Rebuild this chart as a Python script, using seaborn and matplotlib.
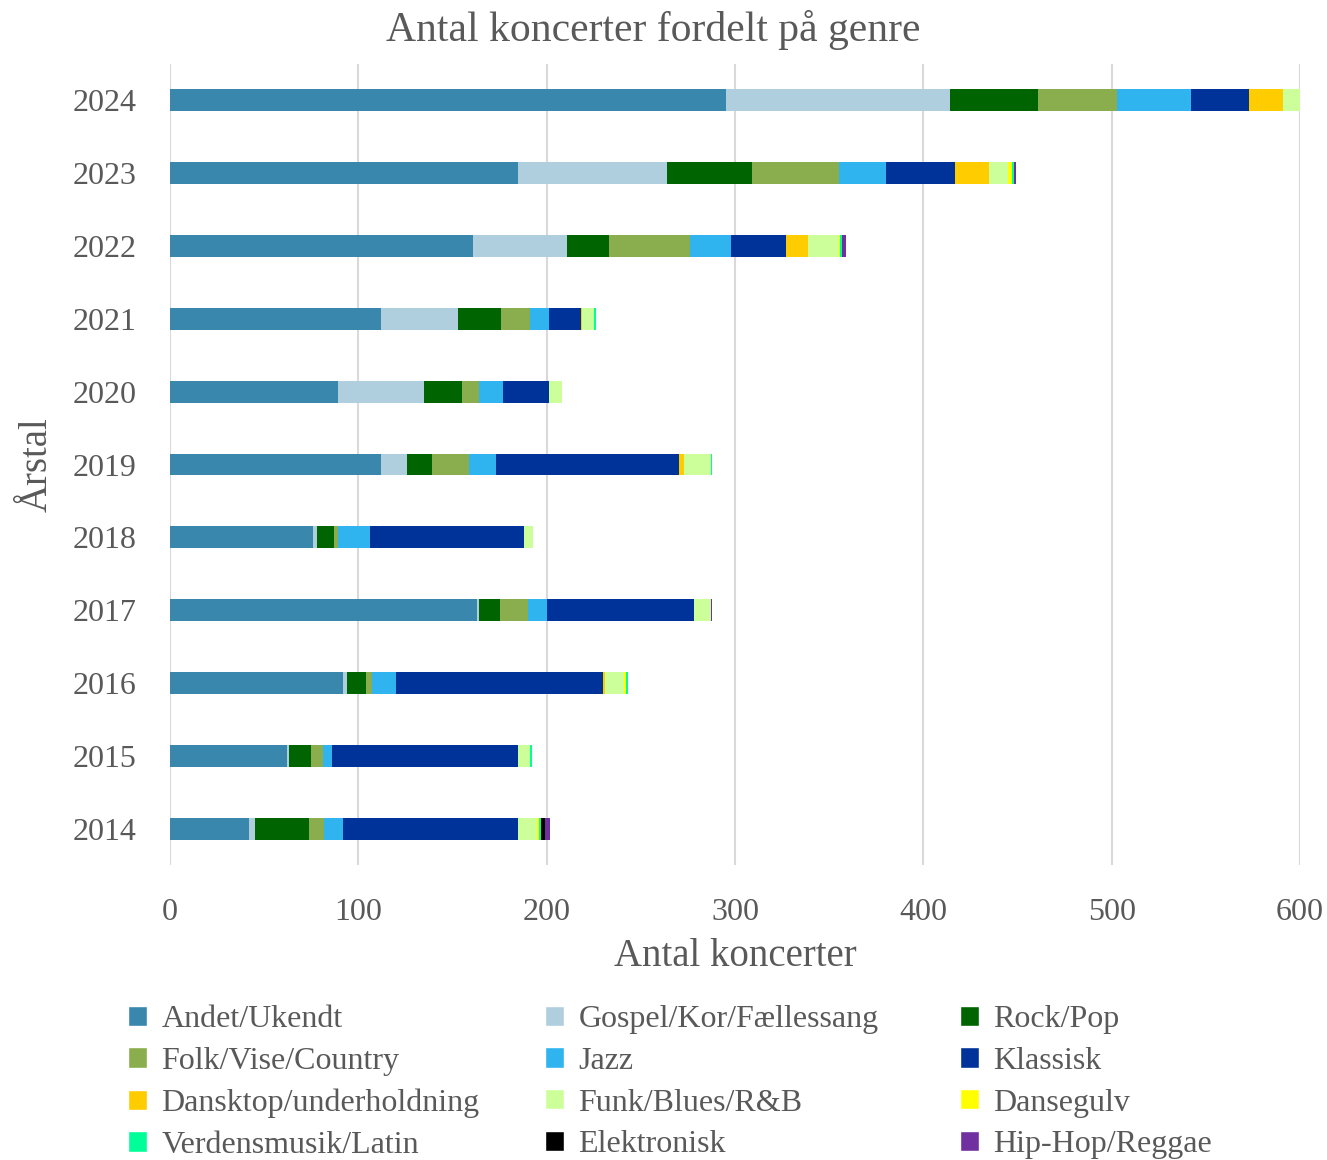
import pandas as pd
import matplotlib.pyplot as plt
from matplotlib.patches import Patch
import seaborn as sns

# Years, top to bottom
years = ['2024', '2023', '2022', '2021', '2020', '2019', '2018', '2017', '2016', '2015', '2014']

genres = ['Andet/Ukendt', 'Gospel/Kor/Fællessang', 'Rock/Pop', 'Folk/Vise/Country',
          'Jazz', 'Klassisk', 'Dansktop/underholdning', 'Funk/Blues/R&B',
          'Dansegulv', 'Verdensmusik/Latin', 'Elektronisk', 'Hip-Hop/Reggae']
colors = ['#3a87ae', '#afcfdf', '#006400', '#8aae4d', '#30b4f0', '#003399',
          '#ffcc00', '#ccff99', '#ffff00', '#00ff99', '#000000', '#7030a0']

# Counts per genre, same order as years
andet = [295, 185, 161, 112, 89, 112, 76, 163, 92, 62, 42]
gospel = [119, 79, 50, 41, 46, 14, 2, 1, 2, 1, 3]
rock = [47, 45, 22, 23, 20, 13, 9, 11, 10, 12, 29]
folk = [42, 46, 43, 15, 9, 20, 2, 15, 3, 6, 8]
jazz = [39, 25, 22, 10, 13, 14, 17, 10, 13, 5, 10]
klassisk = [31, 37, 29, 17, 24, 97, 82, 78, 110, 99, 93]
dansktop = [18, 18, 12, 1, 0, 3, 0, 0, 1, 0, 0]
funk = [9, 10, 16, 6, 7, 14, 5, 9, 10, 6, 10]
dansegulv = [0, 2, 1, 0, 0, 0, 0, 0, 1, 0, 1]
verdens = [0, 1, 1, 1, 0, 1, 0, 0, 1, 1, 1]
elektronisk = [0, 0, 0, 0, 0, 0, 0, 0, 0, 0, 2]
hiphop = [0, 1, 2, 0, 0, 0, 0, 1, 0, 0, 3]

series = [andet, gospel, rock, folk, jazz, klassisk, dansktop, funk,
          dansegulv, verdens, elektronisk, hiphop]

df = pd.DataFrame(dict(zip(genres, series)), index=years)
cum = df.cumsum(axis=1)

sns.set_style('white')
plt.rcParams['font.family'] = ['Liberation Serif', 'DejaVu Serif']
grey = '#595959'

fig = plt.figure(figsize=(13.27, 11.6), dpi=100)
ax = fig.add_axes([170 / 1327, 1 - 865 / 1160, 1130 / 1327, 801 / 1160])

# stacked bars: draw the longest cumulative bar first, shorter ones on top
for g, c in zip(genres[::-1], colors[::-1]):
    sns.barplot(x=cum[g].values, y=years, order=years, color=c, orient='h',
                width=0.3, saturation=1, linewidth=0, ax=ax)

ax.set_xlim(0, 600)
ax.set_xticks([0, 100, 200, 300, 400, 500, 600])
ax.xaxis.grid(True, color='#d9d9d9', linewidth=1.5)
ax.set_axisbelow(True)
for s in ax.spines.values():
    s.set_visible(False)
ax.tick_params(axis='both', length=0, labelsize=23, labelcolor=grey, pad=24)

ax.set_xlabel('Antal koncerter', fontsize=28, color=grey, labelpad=8)
ax.set_ylabel('Årstal', fontsize=28, color=grey, labelpad=12)
fig.suptitle('Antal koncerter fordelt på genre', fontsize=30, color=grey,
             x=653 / 1327, y=1 - 30 / 1160, va='center')

# legend, three columns laid out row by row
handles = [Patch(facecolor=c) for c in colors]
col_x = [128 / 1327, 545 / 1327, 960 / 1327]
for i, x in enumerate(col_x):
    idx = list(range(i, 12, 3))
    leg = fig.legend([handles[j] for j in idx], [genres[j] for j in idx],
                     loc='upper left', bbox_to_anchor=(x, 1 - 1005 / 1160),
                     frameon=False, fontsize=23, borderaxespad=0, borderpad=0,
                     handlelength=0.6, handleheight=0.6, handletextpad=0.45,
                     labelspacing=0.4)
    for t in leg.get_texts():
        t.set_color(grey)

plt.savefig('out.png', dpi=100)
plt.close()
